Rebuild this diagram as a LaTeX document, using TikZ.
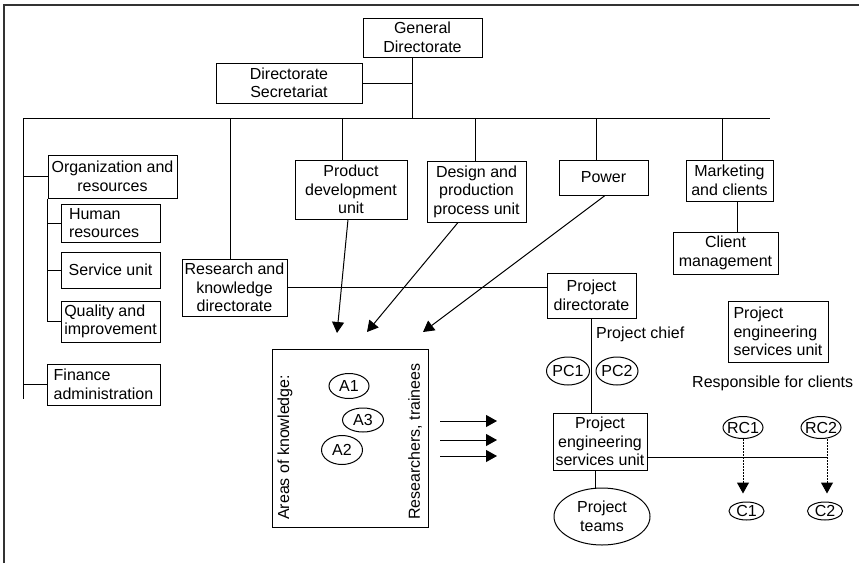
\documentclass[tikz,border=0pt]{standalone}
\usepackage{fontspec}
\setmainfont{Liberation Sans}
\usetikzlibrary{shapes.geometric,arrows.meta}
\begin{document}
\begin{tikzpicture}[x=1pt,y=-1pt,
  every node/.style={font=\fontsize{16}{18.5}\selectfont,inner sep=0pt},
  box/.style={draw,line width=1pt,align=center},
  oval/.style={draw,ellipse,line width=1pt,align=center,inner xsep=-3pt},
  link/.style={line width=1pt},
  arr/.style={line width=1pt,-{Triangle[length=11pt,width=12pt]}},
  dotarr/.style={arr,dash pattern=on 1.5pt off 1.5pt}]
\useasboundingbox (0,0) rectangle (859,563);
\draw [line width=1.5pt,black!80] (4,563) -- (4,5) -- (859,5);
% top of the chart
\node [box,minimum width=119,minimum height=39] (gen) at (422.5,37.5) {General\\Directorate};
\node [box,minimum width=146,minimum height=40] (sec) at (289,83) {Directorate\\Secretariat};
% left column
\node [box,minimum width=129,minimum height=43] (org) at (112.5,176.5) {Organization and\\resources};
\node [box,align=left,text width=83,inner xsep=8,minimum height=38] (hum) at (110.5,223) {Human\\resources};
\node [box,minimum width=99,minimum height=36] (serv) at (110.5,270) {Service unit};
\node [box,align=left,minimum width=99,minimum height=41] (qual) at (110.5,321.5) {Quality and\\improvement};
\node [box,align=left,minimum width=113,minimum height=41] (fin) at (103.5,384.5) {Finance\\administration};
% units under the bus
\node [box,minimum width=112,minimum height=59] (prod) at (351,189.5) {Product\\development\\unit};
\node [box,minimum width=99,minimum height=61] (des) at (476.5,191.5) {Design and\\production\\process unit};
\node [box,minimum width=89,minimum height=35] (pow) at (603.5,177.5) {Power};
\node [box,minimum width=87,minimum height=41] (mark) at (729.5,180.5) {Marketing\\and clients};
\node [box,minimum width=105,minimum height=42] (cli) at (725.5,253) {Client\\management};
\node [box,minimum width=105,minimum height=57] (res) at (234.5,287.5) {Research and\\knowledge\\directorate};
\node [box,minimum width=89,minimum height=45] (pdir) at (591.5,295.5) {Project\\directorate};
\node [box,align=left,minimum width=100,minimum height=61] (peu) at (778,331.5) {Project\\engineering\\services unit};
\node [box,minimum width=94,minimum height=57] (pesu) at (600,441.5) {Project\\engineering\\services unit};
% knowledge box
\node [box,minimum width=156,minimum height=178] (know) at (350,438) {};
\node [rotate=90,anchor=west] (areas) at (285,520) {Areas of knowledge:};
\node [rotate=90,anchor=west] (rsch) at (415,520) {Researchers, trainees};
\node [oval,minimum width=40,minimum height=25] (a1) at (349,386) {A1};
\node [oval,minimum width=41,minimum height=24] (a3) at (363,420) {A3};
\node [oval,minimum width=41,minimum height=29] (a2) at (342,450) {A2};
% project side
\node [anchor=west] (chief) at (596,334) {Project chief};
\node [oval,minimum width=43,minimum height=28] (pc1) at (568,371) {PC1};
\node [oval,minimum width=42,minimum height=28] (pc2) at (617,371) {PC2};
\node [oval,minimum width=96,minimum height=57] (teams) at (602,516.5) {Project\\teams};
\node [anchor=west] (resp) at (692,383) {Responsible for clients};
\node [oval,minimum width=40,minimum height=22] (rc1) at (743,427.5) {RC1};
\node [oval,minimum width=40,minimum height=22] (rc2) at (821,427.5) {RC2};
\node [oval,minimum width=35,minimum height=18] (c1) at (746.5,511) {C1};
\node [oval,minimum width=35,minimum height=18] (c2) at (825,511) {C2};
% bus lines
\coordinate (trunk) at (412,118);
\coordinate (busL) at (23,118);
\coordinate (busR) at (770,118);
\coordinate (busEnd) at (23,399);
\draw [link] (gen.south -| trunk) -- (trunk);
\draw [link] (sec.east) -- (sec.east -| trunk);
\draw [link] (busL) -- (busR);
\draw [link] (busL) -- (busEnd);
\draw [link] (org.west) -- (org.west -| busL);
\draw [link] (fin.west) -- (fin.west -| busL);
\draw [link] (org.south west) |- (qual.west);
\foreach \n in {hum,serv}
  \draw [link] (\n.west) -- (\n.west -| org.south west);
\foreach \n/\d in {res/-4.5,prod/-9,des/-1.5,pow/-7.5,mark/-7.5}
  \draw [link] ([xshift=\d]\n.north) -- ([xshift=\d]\n.north |- busL);
\draw [link] ([xshift=7.5]mark.south) -- ([xshift=7.5]mark.south |- cli.north);
\draw [link] (res.east) -- (res.east -| pdir.west);
\draw [link] (pdir.south) -- (pdir.south |- pesu.north);
\draw [link] ([xshift=-5]pesu.south) -- ([xshift=-5]pesu.south |- teams.north);
\coordinate (rline) at (827,457);
\draw [link] (pesu.east |- rline) -- (rline);
\draw [dotarr] (rc1.south) -- ([yshift=8]rc1.south |- c1.north);
\draw [dotarr] ([xshift=6]rc2.south) -- ([xshift=6,yshift=8]rc2.south |- c2.north);
% arrows into the knowledge box
\coordinate (kin1) at (337,333);
\coordinate (kin2) at (367,332);
\coordinate (kin3) at (423,332);
\draw [arr] ([xshift=-3]prod.south) -- (kin1);
\draw [arr] ([xshift=-18.5]des.south) -- (kin2);
\draw [arr] ([xshift=1.5]pow.south) -- (kin3);
\foreach \y [count=\i] in {421,440,456} {
  \coordinate (out\i) at (440,\y);
  \coordinate (in\i) at (497,\y);
  \draw [arr] (out\i) -- (in\i);
}
\end{tikzpicture}
\end{document}
